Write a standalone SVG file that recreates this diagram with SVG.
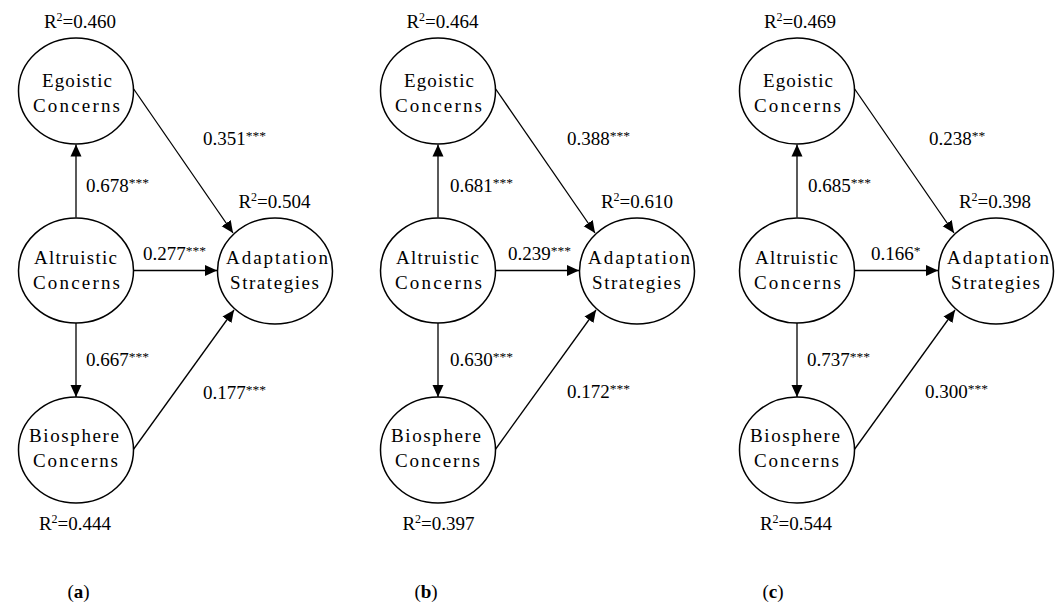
<svg xmlns="http://www.w3.org/2000/svg" width="1062" height="606" viewBox="0 0 1062 606">
<style>
text{font-family:"Liberation Serif","Times New Roman",serif;font-size:19px;fill:#000}
.node ellipse{fill:#fff;stroke:#000;stroke-width:1.5}
.edges line{stroke:#000;stroke-width:1.3;marker-end:url(#ah)}
.lbl{text-anchor:middle}
.st{font-size:13.5px}
.sup{font-size:12px}
</style>
<defs>
<marker id="ah" markerWidth="12" markerHeight="12" refX="12" refY="6" orient="auto" markerUnits="userSpaceOnUse"><path d="M0,0.5 L12,6 L0,11.5 z" fill="#000"/></marker>
</defs>
<rect width="1062" height="606" fill="#fff"/>

<!-- Panel a -->
<g id="panel-a">
<g class="edges" id="edges-a">
<line x1="76" y1="217.5" x2="76" y2="144.5"/>
<line x1="133.5" y1="270.5" x2="217" y2="270.5"/>
<line x1="76" y1="323" x2="76" y2="397"/>
<line x1="133" y1="88" x2="233" y2="233"/>
<line x1="133" y1="450" x2="234" y2="310"/>
</g>
<g class="node" id="a-egoistic"><ellipse cx="76" cy="91" rx="57.5" ry="53"/><text class="lbl" x="77" y="87" textLength="70" lengthAdjust="spacing">Egoistic</text><text class="lbl" x="76.5" y="112" textLength="87" lengthAdjust="spacing">Concerns</text></g>
<g class="node" id="a-altruistic"><ellipse cx="76" cy="270.5" rx="57.5" ry="52.5"/><text class="lbl" x="75.5" y="264" textLength="83" lengthAdjust="spacing">Altruistic</text><text class="lbl" x="76.5" y="289" textLength="87" lengthAdjust="spacing">Concerns</text></g>
<g class="node" id="a-adaptation"><ellipse cx="275" cy="271" rx="57.5" ry="53"/><text class="lbl" x="277" y="264" textLength="102" lengthAdjust="spacing">Adaptation</text><text class="lbl" x="274.5" y="289" textLength="89" lengthAdjust="spacing">Strategies</text></g>
<g class="node" id="a-biosphere"><ellipse cx="76" cy="450" rx="57.5" ry="53"/><text class="lbl" x="74" y="442" textLength="90" lengthAdjust="spacing">Biosphere</text><text class="lbl" x="75.5" y="467" textLength="85" lengthAdjust="spacing">Concerns</text></g>
<g id="a-labels">
<text class="lbl" x="80" y="28">R<tspan class="sup" dy="-7">2</tspan><tspan dy="7">=0.460</tspan></text>
<text class="lbl" x="274.5" y="207.5">R<tspan class="sup" dy="-7">2</tspan><tspan dy="7">=0.504</tspan></text>
<text class="lbl" x="75" y="529.5">R<tspan class="sup" dy="-7">2</tspan><tspan dy="7">=0.444</tspan></text>
<text x="203" y="145">0.351<tspan class="st" dy="-5">***</tspan></text>
<text x="86" y="192">0.678<tspan class="st" dy="-5">***</tspan></text>
<text x="143" y="260">0.277<tspan class="st" dy="-5">***</tspan></text>
<text x="86" y="366">0.667<tspan class="st" dy="-5">***</tspan></text>
<text x="203" y="399">0.177<tspan class="st" dy="-5">***</tspan></text>
<text class="lbl" x="78.5" y="598">(<tspan font-weight="bold">a</tspan>)</text>
</g>
</g>

<!-- Panel b -->
<g id="panel-b" transform="translate(362,0)">
<g class="edges" id="edges-b">
<line x1="76" y1="217.5" x2="76" y2="144.5"/>
<line x1="133.5" y1="270.5" x2="217" y2="270.5"/>
<line x1="76" y1="323" x2="76" y2="397"/>
<line x1="133" y1="88" x2="233" y2="233"/>
<line x1="133" y1="450" x2="234" y2="310"/>
</g>
<g class="node" id="b-egoistic"><ellipse cx="76" cy="91" rx="57.5" ry="53"/><text class="lbl" x="77" y="87" textLength="70" lengthAdjust="spacing">Egoistic</text><text class="lbl" x="76.5" y="112" textLength="87" lengthAdjust="spacing">Concerns</text></g>
<g class="node" id="b-altruistic"><ellipse cx="76" cy="270.5" rx="57.5" ry="52.5"/><text class="lbl" x="75.5" y="264" textLength="83" lengthAdjust="spacing">Altruistic</text><text class="lbl" x="76.5" y="289" textLength="87" lengthAdjust="spacing">Concerns</text></g>
<g class="node" id="b-adaptation"><ellipse cx="275" cy="271" rx="57.5" ry="53"/><text class="lbl" x="277" y="264" textLength="102" lengthAdjust="spacing">Adaptation</text><text class="lbl" x="274.5" y="289" textLength="89" lengthAdjust="spacing">Strategies</text></g>
<g class="node" id="b-biosphere"><ellipse cx="76" cy="450" rx="57.5" ry="53"/><text class="lbl" x="74" y="442" textLength="90" lengthAdjust="spacing">Biosphere</text><text class="lbl" x="75.5" y="467" textLength="85" lengthAdjust="spacing">Concerns</text></g>
<g id="b-labels">
<text class="lbl" x="80.5" y="28">R<tspan class="sup" dy="-7">2</tspan><tspan dy="7">=0.464</tspan></text>
<text class="lbl" x="275" y="207.5">R<tspan class="sup" dy="-7">2</tspan><tspan dy="7">=0.610</tspan></text>
<text class="lbl" x="76.5" y="529.5">R<tspan class="sup" dy="-7">2</tspan><tspan dy="7">=0.397</tspan></text>
<text x="205" y="145">0.388<tspan class="st" dy="-5">***</tspan></text>
<text x="88" y="192">0.681<tspan class="st" dy="-5">***</tspan></text>
<text x="146" y="260">0.239<tspan class="st" dy="-5">***</tspan></text>
<text x="88" y="366">0.630<tspan class="st" dy="-5">***</tspan></text>
<text x="205" y="398">0.172<tspan class="st" dy="-5">***</tspan></text>
<text class="lbl" x="64" y="598">(<tspan font-weight="bold">b</tspan>)</text>
</g>
</g>

<!-- Panel c -->
<g id="panel-c" transform="translate(721,0)">
<g class="edges" id="edges-c">
<line x1="76" y1="217.5" x2="76" y2="144.5"/>
<line x1="133.5" y1="270.5" x2="217" y2="270.5"/>
<line x1="76" y1="323" x2="76" y2="397"/>
<line x1="133" y1="88" x2="233" y2="233"/>
<line x1="133" y1="450" x2="234" y2="310"/>
</g>
<g class="node" id="c-egoistic"><ellipse cx="76" cy="91" rx="57.5" ry="53"/><text class="lbl" x="77" y="87" textLength="70" lengthAdjust="spacing">Egoistic</text><text class="lbl" x="76.5" y="112" textLength="87" lengthAdjust="spacing">Concerns</text></g>
<g class="node" id="c-altruistic"><ellipse cx="76" cy="270.5" rx="57.5" ry="52.5"/><text class="lbl" x="75.5" y="264" textLength="83" lengthAdjust="spacing">Altruistic</text><text class="lbl" x="76.5" y="289" textLength="87" lengthAdjust="spacing">Concerns</text></g>
<g class="node" id="c-adaptation"><ellipse cx="275" cy="271" rx="57.5" ry="53"/><text class="lbl" x="277" y="264" textLength="102" lengthAdjust="spacing">Adaptation</text><text class="lbl" x="274.5" y="289" textLength="89" lengthAdjust="spacing">Strategies</text></g>
<g class="node" id="c-biosphere"><ellipse cx="76" cy="450" rx="57.5" ry="53"/><text class="lbl" x="74" y="442" textLength="90" lengthAdjust="spacing">Biosphere</text><text class="lbl" x="75.5" y="467" textLength="85" lengthAdjust="spacing">Concerns</text></g>
<g id="c-labels">
<text class="lbl" x="79" y="28">R<tspan class="sup" dy="-7">2</tspan><tspan dy="7">=0.469</tspan></text>
<text class="lbl" x="274" y="207.5">R<tspan class="sup" dy="-7">2</tspan><tspan dy="7">=0.398</tspan></text>
<text class="lbl" x="75" y="529.5">R<tspan class="sup" dy="-7">2</tspan><tspan dy="7">=0.544</tspan></text>
<text x="208" y="145">0.238<tspan class="st" dy="-5">**</tspan></text>
<text x="87" y="192">0.685<tspan class="st" dy="-5">***</tspan></text>
<text x="150" y="260">0.166<tspan class="st" dy="-5">*</tspan></text>
<text x="86" y="366">0.737<tspan class="st" dy="-5">***</tspan></text>
<text x="204" y="398">0.300<tspan class="st" dy="-5">***</tspan></text>
<text class="lbl" x="52" y="598">(<tspan font-weight="bold">c</tspan>)</text>
</g>
</g>
</svg>
